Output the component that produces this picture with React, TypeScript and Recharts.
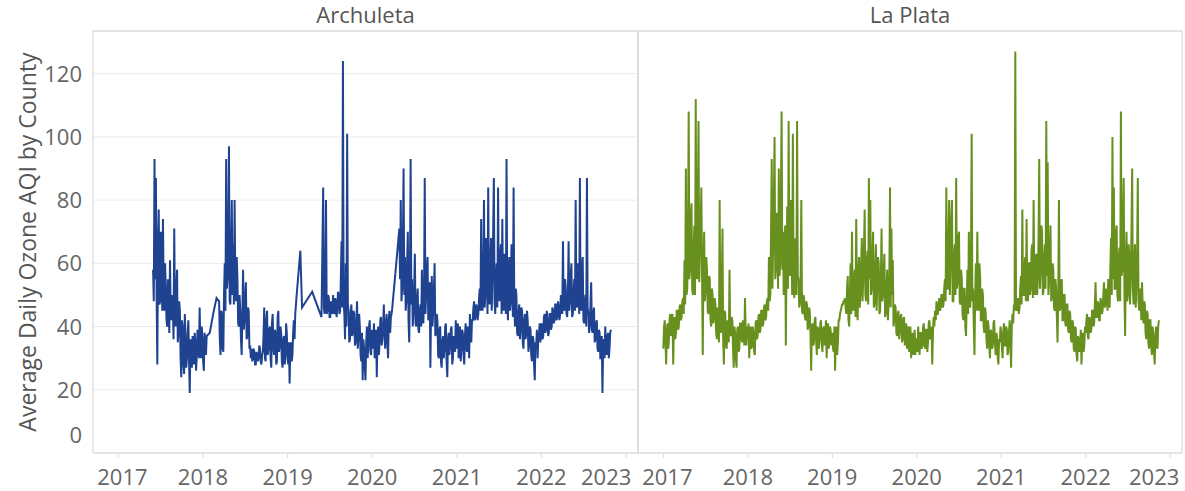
import { CartesianGrid, Line, LineChart, ReferenceArea, XAxis, YAxis } from "recharts";

const YEAR_TICKS = [2017, 2018, 2019, 2020, 2021, 2022, 2023];
const AQI_TICKS = [0, 20, 40, 60, 80, 100, 120];
const X_DOMAIN: [number, number] = [2016.7, 2023.14];
const Y_DOMAIN: [number, number] = [0, 133.5];
const STEP = 1 / 120; // one reading roughly every three days

// Archuleta readings (runs start at the year given in archuletaRuns)
const archuleta2017 = [
  58, 48, 93, 55, 87, 50, 28, 66, 77, 47, 48, 70, 62, 45, 74, 52, 45, 60, 52, 42,
  40, 55, 48, 38, 61, 44, 42, 50, 46, 36, 71, 44, 40, 52, 58, 35, 38, 48, 45, 30,
  24, 42, 40, 28, 25, 44, 36, 27, 30, 38, 42, 29, 19, 36, 33, 27, 37, 31, 28, 38,
  35, 26, 31, 39, 38, 30, 46, 34, 30, 40, 36, 29, 26, 38, 34, 31, 37,
];
const archuleta2018 = [
  48, 36, 31, 45, 44, 33, 32, 50, 60, 45, 93, 52, 55, 70, 97, 48, 47, 64, 80, 50,
  66, 47, 80, 53, 48, 62, 55, 41, 40, 50, 45, 36, 31, 44, 58, 39, 42, 50, 54, 36,
  37, 46, 45, 33, 34, 30, 33, 29, 30, 33, 32, 28, 28, 32, 31, 29, 30, 34, 33, 29,
  28, 31, 32, 37, 46, 30, 29, 42, 45, 31, 33, 39, 40, 30, 27, 41, 44, 33, 31, 39,
  38, 28, 29, 43, 45, 32, 34, 40, 38, 29, 27, 36, 37, 28, 30, 41, 38, 31, 28, 35,
  22, 33, 35, 29, 31, 38, 42, 36, 44, 47, 50,
];
const archuleta2019 = [
  84, 46, 44, 52, 80, 44, 45, 50, 49, 43, 43, 48, 47, 44, 50, 45, 44, 49, 48, 43,
  46, 51, 50, 44, 45, 55, 67, 46, 124, 48, 44, 36, 60, 40, 101, 47, 45, 35, 36, 44,
  47, 37, 38, 45, 44, 34, 35, 41, 48, 33, 37, 44, 40, 31, 29, 38, 23, 36, 33, 27,
  23, 35, 40, 30, 34, 40, 42, 32, 31, 39, 38, 33, 41, 30, 33, 39, 24, 36, 40, 31,
  35, 42, 43, 34, 37, 40, 47, 36, 33, 41, 44, 35, 30, 42, 45, 38, 43, 44, 46,
];
const archuleta2020 = [
  71, 55, 80, 48, 52, 66, 90, 50, 62, 45, 48, 60, 70, 42, 35, 55, 93, 47, 55, 40,
  44, 52, 63, 41, 40, 48, 52, 39, 38, 45, 47, 40, 58, 43, 41, 50, 87, 44, 50, 58,
  62, 42, 43, 54, 27, 46, 56, 40, 45, 52, 60, 37, 38, 44, 42, 31, 30, 39, 40, 29,
  27, 35, 37, 30, 33, 40, 41, 29, 24, 36, 38, 31, 34, 39, 40, 28, 30, 37, 36, 32,
  42, 33,
];
const archuleta2021 = [
  36, 41, 30, 38, 40, 29, 33, 39, 38, 31, 28, 37, 41, 33, 32, 40, 37, 30, 44, 36,
  35, 42, 42, 46, 48, 42, 43, 47, 46, 42, 44, 49, 52, 45, 74, 48, 45, 56, 80, 46,
  50, 68, 63, 44, 84, 52, 47, 60, 68, 45, 55, 70, 87, 48, 44, 57, 60, 46, 84, 52,
  48, 62, 66, 44, 74, 50, 45, 63, 58, 44, 93, 50, 42, 58, 62, 45, 48, 66, 55, 43,
  84, 47, 40, 52, 50, 38, 37, 44, 47, 36, 39, 46, 45, 35, 33, 42, 44, 36, 38, 45,
  42, 32, 34, 40, 39, 31, 29, 37, 36, 28, 23, 35, 33, 39, 30, 36, 38, 41, 35, 40,
];
const archuleta2022 = [
  41, 36, 37, 43, 44, 38, 39, 45, 42, 37, 38, 44, 44, 39, 40, 46, 45, 41, 42, 47,
  47, 42, 43, 48, 46, 42, 44, 50, 48, 44, 67, 46, 45, 55, 52, 44, 43, 50, 67, 45,
  48, 56, 60, 43, 44, 51, 55, 45, 80, 47, 46, 60, 58, 44, 87, 48, 45, 58, 62, 42,
  41, 48, 50, 40, 87, 46, 44, 38, 40, 47, 54, 39, 38, 44, 46, 35, 36, 41, 42, 33,
  32, 39, 38, 30, 30, 37, 19, 34, 36, 30, 40, 33, 31, 37, 38, 30, 33, 38, 39,
];
// isolated readings inside the data gaps: [year, AQI]
const archuletaSparse: [number, number][] = [
  [2018.08, 38], [2018.12, 44], [2018.16, 49],
  [2019.15, 64], [2019.17, 46], [2019.29, 51], [2019.4, 43],
];

// La Plata readings, every run starts on 1 January
const laPlata2017 = [
  33, 40, 42, 35, 28, 39, 41, 33, 36, 43, 44, 37, 39, 44, 28, 40, 43, 36, 38, 45,
  45, 39, 40, 46, 47, 42, 43, 48, 49, 44, 61, 47, 90, 50, 52, 66, 108, 55, 58, 75,
  79, 52, 50, 64, 72, 50, 112, 60, 55, 78, 105, 54, 64, 72, 84, 55, 31, 60, 70, 48,
  52, 62, 58, 45, 44, 56, 55, 42, 40, 52, 50, 41, 43, 49, 47, 38, 36, 46, 45, 35,
  80, 42, 38, 50, 71, 36, 28, 45, 44, 34, 33, 42, 40, 35, 58, 38, 37, 43, 42, 33,
  27, 40, 38, 30, 27, 39, 40, 32, 33, 41, 41, 36, 35, 42, 39, 34, 49, 38, 34, 40,
];
const laPlata2018 = [
  36, 41, 30, 38, 40, 33, 34, 40, 38, 32, 31, 41, 42, 36, 37, 43, 44, 38, 39, 45,
  45, 40, 41, 46, 47, 42, 43, 48, 49, 45, 62, 48, 50, 70, 93, 52, 66, 80, 100, 55,
  58, 76, 74, 52, 90, 56, 60, 82, 108, 58, 70, 50, 52, 72, 34, 60, 78, 52, 105, 58,
  56, 80, 72, 50, 101, 55, 49, 66, 68, 50, 105, 56, 55, 46, 47, 55, 80, 45, 44, 50,
  49, 43, 42, 48, 47, 39, 40, 46, 45, 38, 26, 40, 41, 34, 35, 42, 43, 36, 31, 40,
  39, 33, 36, 41, 42, 35, 32, 39, 40, 34, 37, 42, 30, 38, 41, 33, 35, 40, 38, 34,
];
const laPlata2019 = [
  38, 33, 32, 40, 26, 37, 40, 31, 35, 42, 42, 44, 45, 46, 47, 47, 48, 48, 49, 46,
  44, 52, 56, 42, 40, 50, 60, 44, 70, 48, 45, 55, 58, 43, 74, 50, 42, 57, 62, 46,
  50, 60, 68, 48, 55, 65, 77, 50, 48, 60, 64, 47, 87, 55, 80, 50, 52, 63, 70, 46,
  47, 58, 66, 45, 54, 62, 60, 44, 45, 55, 71, 48, 50, 58, 63, 43, 44, 52, 58, 42,
  47, 55, 84, 46, 71, 50, 61, 40, 42, 47, 46, 38, 37, 44, 45, 36, 39, 43, 44, 35,
  36, 42, 43, 34, 38, 41, 33, 39, 40, 32, 35, 40, 30, 37, 38, 31, 34, 39, 31, 36,
];
const laPlata2020 = [
  36, 32, 40, 35, 31, 38, 38, 33, 34, 40, 41, 34, 33, 39, 39, 32, 35, 41, 42, 36,
  37, 40, 28, 38, 43, 40, 45, 42, 48, 44, 44, 47, 49, 45, 46, 50, 50, 46, 47, 52,
  55, 48, 84, 52, 52, 66, 80, 50, 60, 74, 80, 48, 48, 62, 66, 50, 87, 52, 54, 68,
  70, 48, 47, 58, 55, 44, 42, 52, 52, 40, 37, 48, 58, 44, 70, 50, 46, 62, 101, 48,
  52, 40, 31, 50, 60, 45, 70, 50, 45, 60, 56, 42, 42, 52, 50, 40, 38, 46, 44, 36,
  33, 42, 40, 34, 30, 39, 38, 33, 34, 41, 42, 35, 31, 38, 37, 30, 28, 36, 35, 40,
];
const laPlata2021 = [
  38, 33, 30, 39, 41, 34, 34, 40, 39, 31, 32, 38, 42, 35, 27, 40, 44, 41, 47, 45,
  127, 46, 45, 48, 49, 44, 46, 52, 56, 47, 77, 50, 50, 58, 62, 48, 74, 52, 48, 60,
  60, 50, 52, 64, 66, 49, 80, 54, 50, 62, 63, 50, 55, 68, 93, 52, 58, 72, 70, 50,
  51, 62, 66, 52, 105, 56, 92, 50, 54, 65, 72, 48, 49, 60, 58, 46, 45, 55, 52, 43,
  35, 50, 80, 45, 46, 54, 55, 42, 42, 50, 50, 41, 40, 47, 47, 39, 38, 45, 44, 36,
  35, 42, 41, 33, 32, 40, 39, 31, 29, 37, 36, 32, 33, 39, 28, 35, 38, 32, 34, 40,
];
const laPlata2022 = [
  38, 42, 44, 37, 36, 43, 42, 38, 39, 45, 45, 40, 41, 47, 54, 43, 43, 48, 47, 42,
  42, 49, 48, 44, 45, 50, 54, 46, 47, 52, 50, 45, 55, 48, 46, 58, 68, 50, 100, 55,
  84, 52, 52, 70, 72, 50, 48, 62, 65, 48, 108, 56, 58, 74, 87, 50, 37, 60, 70, 48,
  50, 66, 62, 47, 55, 70, 90, 52, 47, 60, 66, 46, 52, 62, 87, 48, 45, 52, 49, 42,
  54, 46, 41, 48, 47, 38, 36, 45, 44, 35, 33, 42, 42, 34, 31, 40, 38, 32, 28, 37,
  40, 34, 33, 40, 42,
];

type Run = { start: number; values: number[] };

const archuletaRuns: Run[] = [
  { start: 2017.41, values: archuleta2017 },
  { start: 2018.19, values: archuleta2018 },
  { start: 2019.42, values: archuleta2019 },
  { start: 2020.32, values: [...archuleta2020, ...archuleta2021, ...archuleta2022] },
];
const laPlataRuns: Run[] = [
  { start: 2017, values: laPlata2017 },
  { start: 2018, values: laPlata2018 },
  { start: 2019, values: laPlata2019 },
  { start: 2020, values: laPlata2020 },
  { start: 2021, values: laPlata2021 },
  { start: 2022, values: laPlata2022 },
];

function toPoints(runs: Run[], extra: [number, number][] = []) {
  const pts = runs.flatMap((r) => r.values.map((v, i) => ({ t: r.start + i * STEP, aqi: v })));
  extra.forEach(([t, aqi]) => pts.push({ t, aqi }));
  return pts.sort((a, b) => a.t - b.t);
}

const W = 1185;
const H = 491;
const TOP = 31;
const BOTTOM = 453;
const FONT = "'Open Sans', sans-serif";
const TEXT = "#666";

function YTick(props: any) {
  const { x, y, payload } = props;
  // Tableau pulls the 0 label up inside the pane
  const dy = payload.value === 0 ? -10 : 8;
  return (
    <text x={x - 11} y={y + dy} textAnchor="end" fill={TEXT} fontSize={22} fontFamily={FONT}>
      {payload.value}
    </text>
  );
}

function makeXTick(shifts: Record<number, number>) {
  return (props: any) => {
    const { x, y, payload } = props;
    const s = shifts[payload.value] ?? 0;
    return (
      <g>
        <line x1={x} x2={x} y1={y} y2={y + 5} stroke="#dcdcdc" />
        <text x={x + s} y={y + 32} textAnchor="middle" fill={TEXT} fontSize={22} fontFamily={FONT}>
          {payload.value}
        </text>
      </g>
    );
  };
}

interface PanelProps {
  data: { t: number; aqi: number }[];
  color: string;
  left: number;
  right: number;
  yLabels: boolean;
  shifts: Record<number, number>;
}

function Panel({ data, color, left, right, yLabels, shifts }: PanelProps) {
  return (
    <div style={{ position: "absolute", left: 0, top: 0 }}>
      <LineChart
        width={W}
        height={H}
        data={data}
        margin={{ top: TOP, left: left - 1, right: W - right, bottom: 0 }}
      >
        <CartesianGrid vertical={false} stroke="#ececec" />
        <XAxis
          dataKey="t"
          type="number"
          domain={X_DOMAIN}
          ticks={YEAR_TICKS}
          height={H - BOTTOM}
          axisLine={false}
          tickLine={false}
          tickSize={0}
          tickMargin={0}
          tick={makeXTick(shifts)}
          interval={0}
        />
        <YAxis
          type="number"
          domain={Y_DOMAIN}
          ticks={AQI_TICKS}
          width={1}
          axisLine={false}
          tickLine={false}
          tickSize={0}
          tickMargin={0}
          tick={yLabels ? YTick : false}
          interval={0}
        />
        <ReferenceArea
          x1={X_DOMAIN[0]}
          x2={X_DOMAIN[1]}
          y1={Y_DOMAIN[0]}
          y2={Y_DOMAIN[1]}
          fill="none"
          stroke="#d3d3d3"
          strokeOpacity={1}
          fillOpacity={0}
        />
        <Line
          type="linear"
          dataKey="aqi"
          stroke={color}
          strokeWidth={2}
          dot={false}
          isAnimationActive={false}
        />
      </LineChart>
    </div>
  );
}

export default function App() {
  const archuleta = toPoints(archuletaRuns, archuletaSparse);
  const laPlata = toPoints(laPlataRuns);
  return (
    <div style={{ position: "relative", width: W, height: H, background: "#fff", fontFamily: FONT }}>
      <style>{"body{margin:0}"}</style>
      <Panel data={archuleta} color="#1f4391" left={93} right={638} yLabels shifts={{ 2017: 4, 2023: -20 }} />
      <Panel data={laPlata} color="#68901f" left={638} right={1182} yLabels={false} shifts={{ 2017: 4, 2023: -16 }} />
      <div style={{ position: "absolute", left: 93, width: 545, top: 0, textAlign: "center", fontSize: 22, color: "#555", lineHeight: "28px" }}>
        Archuleta
      </div>
      <div style={{ position: "absolute", left: 638, width: 544, top: 0, textAlign: "center", fontSize: 22, color: "#555", lineHeight: "28px" }}>
        La Plata
      </div>
      <svg width={60} height={H} style={{ position: "absolute", left: 0, top: 0 }}>
        <text
          x={27}
          y={242}
          transform="rotate(-90 27 242)"
          textAnchor="middle"
          dominantBaseline="central"
          fill="#555"
          fontSize={23}
          fontFamily={FONT}
        >
          Average Daily Ozone AQI by County
        </text>
      </svg>
    </div>
  );
}
